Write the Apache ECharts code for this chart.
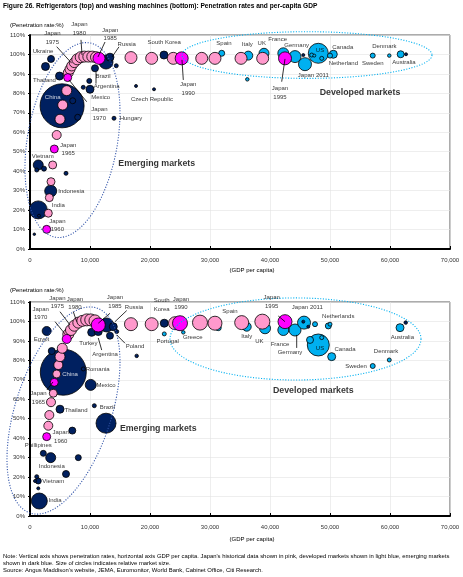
<!DOCTYPE html>
<html><head><meta charset="utf-8">
<script src="https://cdn.jsdelivr.net/npm/echarts@6/dist/echarts.min.js"></script>
<style>html,body{margin:0;padding:0;background:#fff}#c{width:463px;height:577px}</style>
</head><body><div id="c"></div>
<script>
// ---------- axis ticks ----------
const xTicks = [0, 10000, 20000, 30000, 40000, 50000, 60000, 70000];
const yTicks = [0, 10, 20, 30, 40, 50, 60, 70, 80, 90, 100, 110];

// ---------- TOP: refrigerators  [GDP per capita, penetration %, relative market size] ----------
const topEmerging = [
 [5350,73.6,44],[3500,97.7,7],[2580,93.8,8],[4920,88.9,8],[7120,76.2,6],[7950,67.7,6],
 [12670,96.1,14],[13330,98.6,8],[10830,92.9,7],[14380,94.2,4],[9880,86.4,5],[8880,83.1,4],
 [10000,82.1,8],[14000,67.2,4],[17670,83.8,3],[20670,82.1,3],[22330,99.7,8],
 [1380,43.2,10],[1120,40.6,4],[2330,41.3,5],[6000,38.9,4],[3450,29.8,12],[1380,20.1,18],
 [1500,17.1,3],[720,7.6,2.5],[45550,99.7,3],[62670,100.1,3]
];
const topDeveloped = [
 [31950,100.6,6],[36380,99.4,9],[39000,100.6,10],[42220,100.6,11],[44170,98.9,12],[45830,95.0,13],
 [48050,100.6,20],[46950,99.7,4],[48620,98.0,4],[47380,99.4,3],[50550,100.1,8],[50000,99.4,5],
 [57120,99.4,5],[59880,99.4,3.5],[61780,100.1,7],[36220,87.2,3.5]
];
const topJapan = [
 [3050,18.4,8],[3220,26.4,8],[3500,34.6,8],[3780,43.2,8],[4450,58.6,9],[5000,66.7,10],[5450,74.0,10],[6120,81.4,10],
 [6380,90.6,10],[6670,92.4,10],[6950,94.1,10],[7380,95.8,10],[7880,97.5,11],[8450,98.6,11],[9050,98.9,11],
 [9720,98.9,11],[10380,98.9,11],[11000,98.6,11],
 [16830,98.4,12],[20280,98.0,12],[23880,98.0,12],[28620,98.0,12],[30830,98.0,12],[35170,98.0,12],[38780,98.0,12]
];
const topJapanYears = [
 [2780,10.1,8],[4050,51.4,8],[6280,88.1,8],[11500,98.0,12],[25280,98.0,13],[42500,98.0,13]
];
const topLabels = [
 [3720,108.5,'Japan\n1975'],[8220,113.1,'Japan\n1980'],[13380,110.3,'Japan\n1985'],[16120,105.0,'Russia'],
 [2170,101.4,'Ukraine'],[2400,86.9,'Thailand'],[3780,77.8,'China'],[12170,88.9,'Brazil'],
 [12780,83.8,'Argentina'],[11780,77.8,'Mexico'],[11550,69.4,'Japan\n1970'],[16830,67.2,'Hungary'],
 [20330,77.0,'Czech Republic'],[22380,106.1,'South Korea'],[26380,82.3,'Japan\n1990'],[32330,105.8,'Spain'],
 [36220,105.2,'Italy'],[38620,105.8,'UK'],[41280,108.0,'France'],[44450,104.9,'Germany'],[48330,102.3,'US'],
 [52120,103.5,'Canada'],[52220,95.5,'Netherland'],[47220,89.5,'Japan 2011'],[41670,80.3,'Japan\n1995'],
 [57120,95.5,'Sweden'],[59050,104.0,'Denmark'],[62330,96.0,'Australia'],
 [55000,80.4,'Developed markets'],[21120,44.1,'Emerging markets'],
 [2120,47.8,'Vietnam'],[6380,51.2,'Japan\n1965'],[6870,29.5,'Indonesia'],[4720,22.3,'India'],[4550,12.1,'Japan\n1960']
];
const topLeaders = [
 [4450,104.0,6950,95.5],[8500,107.5,8670,99.7],[12500,106.4,11330,98.7],[14830,103.9,13670,98.7],
 [9450,75.7,6500,86.9],[25330,97.2,25550,86.9],[42500,97.7,41950,86.0],[11000,91.2,11000,85.0]
];
// [centre GDP, centre %, half-width GDP, half-height %, tilt deg]
const topEmergingZone = [[7080,56.0,7500,50.7,10]];
const topDevelopedZone = [[46170,99.7,20830,12.0,0]];

// ---------- BOTTOM: washing machines ----------
const botEmerging = [
 [5550,73.9,46],[2780,95.1,9],[3620,84.8,7],[8880,75.6,4],[10120,67.4,11],[10280,94.4,8],
 [12780,98.2,14],[13880,97.3,8],[11380,94.8,8],[13330,92.7,7],[14450,94.8,4],[17780,82.3,3.5],
 [22380,99.1,8],[5000,54.9,8],[10720,56.7,4],[12670,47.7,20],[7050,43.9,7],[2220,32.2,6],
 [3450,30.0,10],[8050,30.0,6],[6000,21.6,7],[1120,20.2,4],[1380,18.0,6],[830,18.0,3],[1380,14.2,3],
 [1550,7.7,16],[45550,99.9,3],[46380,97.3,3],[62620,99.4,3.5]
];
const botDeveloped = [
 [22380,93.6,4],[25550,94.4,3.5],[31380,96.8,6],[36120,97.3,9],[39170,96.5,11],[42220,95.6,11],
 [44170,95.6,12],[45670,99.4,13],[47500,98.6,5],[49720,97.7,6],[50000,98.6,4],[48050,87.9,22],
 [46670,90.5,7],[48620,91.7,4],[50280,81.9,8],[61670,96.8,8],[59880,80.2,4],[57120,77.1,5]
];
const botJapan = [
 [3050,46.4,9],[3220,51.9,9],[3500,58.5,9],[3880,63.1,8],[4450,73.0,8],[4720,77.6,9],[5000,81.9,10],
 [5380,86.2,10],[6380,93.4,11],[6830,95.6,11],[7380,97.8,11],[8050,99.4,11],[8720,100.3,11],
 [9450,100.8,12],[10120,100.8,12],[10830,100.3,12],
 [16830,98.6,13],[20280,98.6,13],[24170,99.1,13],[28330,99.4,15],[30830,99.1,14],[35280,99.4,14],[38720,99.9,15]
];
const botJapanYears = [
 [2780,40.8,8],[4050,68.7,8],[6120,91.0,9],[11380,98.2,14],[25000,99.1,15],[42500,99.9,14]
];
const botLabels = [
 [1780,104.1,'Japan\n1970'],[4550,109.8,'Japan\n1975'],[7500,109.3,'Japan\n1980'],[14170,110.2,'Japan\n1985'],
 [17330,107.3,'Russia'],[21950,108.5,'South\nKorea'],[25170,109.3,'Japan\n1990'],[33330,105.4,'Spain'],
 [1920,90.8,'Egypt'],[9720,88.8,'Turkey'],[12500,83.1,'Argentina'],[17500,87.0,'Poland'],
 [11280,75.4,'Romania'],[6670,72.9,'China'],[12670,67.4,'Mexico'],[22950,89.6,'Portugal'],[27120,91.7,'Greece'],
 [1420,60.7,'Japan\n1965'],[7670,54.5,'Thailand'],[12880,55.9,'Brazil'],[21380,44.7,'Emerging markets'],
 [5120,40.6,'Japan\n1960'],[1380,36.5,'Phillipines'],[3620,25.3,'Indonesia'],[3880,18.0,'Vietnam'],[4170,8.2,'India'],
 [40280,110.2,'Japan\n1995'],[46220,107.3,'Japan 2011'],[51380,102.8,'Netherlands'],[36120,92.2,'Italy'],
 [38220,89.6,'UK'],[41670,88.3,'France'],[43330,84.0,'Germany'],[48330,86.2,'US'],[52500,85.7,'Canada'],
 [62050,91.9,'Australia'],[59330,84.8,'Denmark'],[54330,77.1,'Sweden'],[47220,64.4,'Developed markets']
];
const botLeaders = [
 [4170,99.9,5830,93.6],[5000,105.0,6670,98.2],[7220,105.0,7780,99.9],[13330,104.2,11380,99.1],
 [16120,105.6,14170,99.9],[11950,85.3,11380,91.5],[15830,88.8,14450,93.1],[2830,64.8,3830,68.9],
 [41380,102.8,42500,99.9],[44450,93.1,44450,86.4]
];
const botEmergingZone = [[5580,54.2,8000,55.4,18]];
const botDevelopedZone = [[44250,91.0,20920,21.1,0]];

const TITLE = 'Figure 26. Refrigerators (top) and washing machines (bottom): Penetration rates and per-capita GDP';
const NOTE = ["Note: Vertical axis shows penetration rates, horizontal axis GDP per capita. Japan's historical data shown in pink, developed markets shown in light blue, emerging markets",
 'shown in dark blue. Size of circles indicates relative market size.',
 "Source: Angus Maddison's website, JEMA, Euromonitor, World Bank, Cabinet Office, Citi Research."];

// ---------- styling ----------
const FONT = "'Liberation Sans', Arial, sans-serif";
const C_DARK = '#002060', C_LIGHT = '#00b0f0', C_PINK = '#ff99cc', C_MAG = '#ff00ff';
const SIZE_SCALE = 1;
const GRID_TOPS = [35, 302];

function bubbles(data, color, i, name) {
  return { type:'scatter', name, xAxisIndex:i, yAxisIndex:i, data, silent:true, clip:false,
    symbolSize: v => v[2]*SIZE_SCALE,
    itemStyle:{ color, borderColor:'#000', borderWidth:0.8, opacity:1 } };
}
function zone(data, color, i) {
  return { type:'custom', xAxisIndex:i, yAxisIndex:i, data, silent:true, clip:false, z:4,
    renderItem(params, api) {
      const c = api.coord([api.value(0), api.value(1)]);
      const s = api.size([api.value(2), api.value(3)]);
      const th = api.value(4)*Math.PI/180, pts = [];
      for (let k = 0; k <= 160; k++) {
        const t = k/160*2*Math.PI, x = s[0]*Math.cos(t), y = s[1]*Math.sin(t);
        pts.push([c[0] + x*Math.cos(th) - y*Math.sin(th), c[1] + x*Math.sin(th) + y*Math.cos(th)]);
      }
      return { type:'polyline', shape:{points:pts}, style:{ stroke:color, fill:'none', lineWidth:1.1, lineDash:[1.1,1.6] } };
    } };
}
function leaders(data, i) {
  return { type:'custom', xAxisIndex:i, yAxisIndex:i, data, silent:true, clip:false, z:5,
    renderItem(params, api) {
      const a = api.coord([api.value(0), api.value(1)]), b = api.coord([api.value(2), api.value(3)]);
      return { type:'line', shape:{x1:a[0],y1:a[1],x2:b[0],y2:b[1]}, style:{stroke:'#000', lineWidth:0.8} };
    } };
}
function labels(data, i) {
  return { type:'scatter', xAxisIndex:i, yAxisIndex:i, silent:true, clip:false, z:6, symbolSize:0,
    data: data.map(l => {
      const item = { value:[l[0], l[1]], name:l[2] };
      if (/markets$/.test(l[2])) item.label = { fontSize:8.8, fontWeight:'bold', color:'#000' };
      if (l[2] === 'China') item.label = { color:'#fff' };
      return item;
    }),
    label:{ show:true, position:'inside', formatter:'{b}', fontSize:6, lineHeight:8.5, color:'#000', fontFamily:FONT } };
}

const grids = GRID_TOPS.map(t => ({ left:30, top:t, width:420, height:214, show:true,
  borderColor:'#595959', borderWidth:1, backgroundColor:'transparent', outerBoundsMode:'none', containLabel:false }));
const xAxes = GRID_TOPS.map((t,i) => ({ type:'value', gridIndex:i, min:xTicks[0], max:xTicks[xTicks.length-1],
  interval:xTicks[1]-xTicks[0],
  axisLine:{ onZero:false, lineStyle:{ color:'#000', width:2 } },
  axisTick:{ inside:true, length:3, lineStyle:{ color:'#000', width:1 } },
  axisLabel:{ fontSize:6, color:'#333', margin:8, fontFamily:FONT, formatter: v => v.toLocaleString('en-US') },
  splitLine:{ show:true, lineStyle:{ color:'#e3e3e3', width:0.6 } } }));
const yAxes = GRID_TOPS.map((t,i) => ({ type:'value', gridIndex:i, min:yTicks[0], max:yTicks[yTicks.length-1],
  interval:yTicks[1]-yTicks[0],
  axisLine:{ onZero:false, lineStyle:{ color:'#000', width:2 } },
  axisTick:{ show:true, length:2, lineStyle:{ color:'#000' } },
  axisLabel:{ fontSize:6, color:'#333', margin:5, fontFamily:FONT, formatter:'{value}%' },
  splitLine:{ show:true, lineStyle:{ color:'#e3e3e3', width:0.6 } } }));

const sets = [
  [topEmerging, topDeveloped, topJapan, topJapanYears, topLabels, topLeaders, topEmergingZone, topDevelopedZone],
  [botEmerging, botDeveloped, botJapan, botJapanYears, botLabels, botLeaders, botEmergingZone, botDevelopedZone]
];
const series = [];
sets.forEach((s, i) => {
  series.push(bubbles(s[1], C_LIGHT, i, 'Developed'));
  series.push(bubbles(s[0], C_DARK, i, 'Emerging'));
  series.push(bubbles(s[2], C_PINK, i, 'Japan'));
  series.push(bubbles(s[3], C_MAG, i, 'Japan (milestones)'));
  series.push(zone(s[6], '#3355aa', i));
  series.push(zone(s[7], C_LIGHT, i));
  series.push(leaders(s[5], i));
  series.push(labels(s[4], i));
});

const txt = (x, y, text, align) => ({ type:'text', x, y, silent:true,
  style:{ text, fontSize:6, fontFamily:FONT, fill:'#000', textAlign:align||'left', textVerticalAlign:'middle' } });

const chart = echarts.init(document.getElementById('c'), null, { renderer:'canvas' });
chart.setOption({
  animation:false,
  backgroundColor:'#fff',
  title:[
    { text:TITLE, left:3, top:3, padding:0, textStyle:{ fontSize:6.6, fontWeight:'bold', color:'#000', fontFamily:FONT } },
    { text:NOTE.join('\n'), left:3, top:553, padding:0, textStyle:{ fontSize:5.9, lineHeight:7, fontWeight:'normal', color:'#000', fontFamily:FONT } }
  ],
  graphic:[
    txt(10, 25, '(Penetration rate:%)'), txt(252, 270, '(GDP per capita)', 'center'),
    txt(10, 290, '(Penetration rate:%)'), txt(252, 539, '(GDP per capita)', 'center')
  ],
  grid:grids, xAxis:xAxes, yAxis:yAxes, series
});
</script></body></html>
